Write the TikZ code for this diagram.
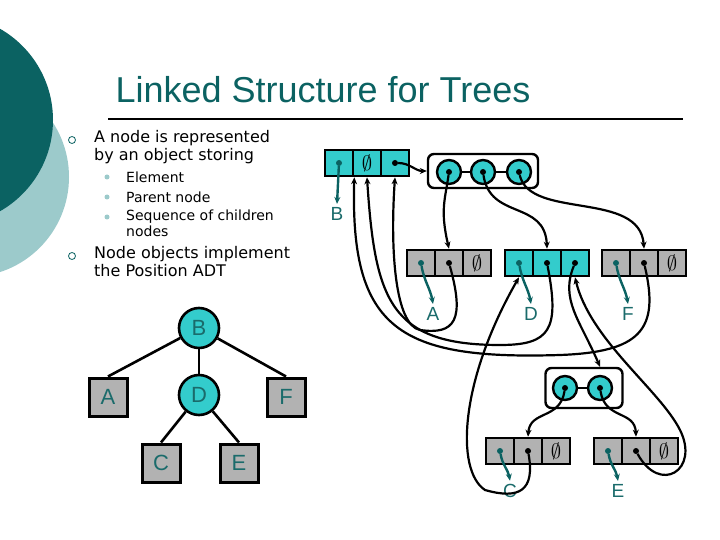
\documentclass[tikz,border=0pt]{standalone}
\usepackage{fontspec}
\setmainfont{DejaVu Sans}
\newfontfamily\titlefont{Liberation Sans}
\usetikzlibrary{arrows.meta}
\definecolor{dteal}{HTML}{0B6262}
\definecolor{lteal}{HTML}{9CCACB}
\definecolor{cyanf}{HTML}{33CCCC}
\definecolor{greyf}{HTML}{B2B2B2}
\definecolor{lbl}{HTML}{1A6B6B}
\begin{document}
\begin{tikzpicture}[x=1pt,y=-1pt,
  cellc/.style={draw=black,line width=2.6pt,fill=cyanf,minimum width=28pt,minimum height=26pt,inner sep=0pt},
  cellg/.style={cellc,fill=greyf},
  dot/.style={circle,fill=black,inner sep=0pt,minimum size=6pt},
  tdot/.style={circle,fill=dteal,inner sep=0pt,minimum size=6pt},
  lab/.style={text=lbl,font=\titlefont\fontsize{19}{19}\selectfont},
  cont/.style={draw=black,line width=2.4pt,rounded corners=6pt,fill=white},
  ball/.style={circle,draw=black,line width=2.4pt,fill=cyanf,minimum size=24pt,inner sep=0pt},
  ptr/.style={line width=2.2pt,-{Stealth[length=7pt,width=6pt]}},
  eptr/.style={draw=dteal,line width=2.4pt,-{Stealth[length=7pt,width=6pt]}},
  tcirc/.style={circle,draw=black,line width=2.6pt,fill=cyanf,minimum size=40pt,inner sep=0pt,text=lbl,font=\titlefont\fontsize{22}{22}\selectfont},
  tsq/.style={draw=black,line width=3pt,fill=greyf,minimum size=38pt,inner sep=0pt,text=lbl,font=\titlefont\fontsize{22}{22}\selectfont},
  tedge/.style={line width=2.6pt},
  nullsym/.style={font=\fontsize{22}{22}\selectfont}]
\useasboundingbox (0,0) rectangle (720,540);
\fill[white] (0,0) rectangle (720,540);
\begin{scope}
\clip (0,0) rectangle (720,540);
\fill[lteal] (-31,177) circle (100);
\fill[dteal] (-52,120) circle (105);
\end{scope}
\node[text=dteal,font=\titlefont\fontsize{36}{36}\selectfont] (title) at (323,90) {Linked Structure for Trees};
\draw[line width=1.5pt] (108,119) -- (683,119);
\tikzset{btxt/.style={anchor=west,font=\fontsize{16}{18}\selectfont,align=left,inner sep=0pt},
 stxt/.style={anchor=west,font=\fontsize{14}{16}\selectfont,align=left,inner sep=0pt}}
\node[circle,draw=dteal,line width=0.8pt,minimum size=7pt,inner sep=0pt] (b1) at (72,140) {};
\node[btxt,anchor=north west] (t1) at (94,130) {A node is represented\\by an object storing};
\foreach \yy/\nm in {177/s1,197/s2,217/s3}{\node[circle,fill=lteal,minimum size=5pt,inner sep=0pt] (\nm) at (107,\yy) {};}
\node[stxt] (u1) at (126,177) {Element};
\node[stxt] (u2) at (126,197) {Parent node};
\node[stxt,anchor=north west] (u3) at (126,210) {Sequence of children\\nodes};
\node[circle,draw=dteal,line width=0.8pt,minimum size=7pt,inner sep=0pt] (b2) at (72,256) {};
\node[btxt,anchor=north west] (t2) at (94,246) {Node objects implement\\the Position ADT};
\node[tcirc] (tB) at (199,328) {B};
\node[tcirc] (tD) at (199,395) {D};
\node[tsq] (tA) at (108,397) {A};
\node[tsq] (tF) at (286,397) {F};
\node[tsq] (tC) at (161,463) {C};
\node[tsq] (tE) at (239,463) {E};
\draw[tedge] (tB) -- (tA.north); \draw[tedge] (tB) -- (tD); \draw[tedge] (tB) -- (tF.north);
\draw[tedge] (tD) -- (tC.north); \draw[tedge] (tD) -- (tE.north);
\newcommand{\rec}[6]{%
 \node[#4] (#1a) at (#2,#3) {};
 \node[#5] (#1b) at (#2+28,#3) {};
 \node[#6] (#1c) at (#2+56,#3) {};}
\rec{B}{339}{163}{cellc}{cellc}{cellc}
\rec{A}{421}{263}{cellg}{cellg}{cellg}
\rec{D}{519}{263}{cellc}{cellc}{cellc}
\rec{F}{616}{263}{cellg}{cellg}{cellg}
\rec{C}{500}{451}{cellg}{cellg}{cellg}
\rec{E}{608}{451}{cellg}{cellg}{cellg}
\foreach \n in {Bb,Ac,Fc,Cc,Ec}{\node[nullsym] at (\n) {$\emptyset$};}
\foreach \n in {B,A,D,F,C,E}{\node[tdot] (\n e) at (\n a) {};}
\foreach \n in {Bc,Ab,Db,Dc,Fb,Cb,Eb}{\node[dot] (\n d) at (\n) {};}
\node[lab] (lB) at (337,214) {B};
\node[lab] (lA) at (433,314) {A};
\node[lab] (lD) at (531,314) {D};
\node[lab] (lF) at (628,314) {F};
\node[lab] (lC) at (510,491) {C};
\node[lab] (lE) at (618,491) {E};
\node[cont,minimum width=110pt,minimum height=34pt] (K1) at (483,171) {};
\node[ball] (k1) at (449,172) {}; \node[ball] (k2) at (483,172) {}; \node[ball] (k3) at (519,172) {};
\draw[line width=2.4pt] (k1) -- (k2) (k2) -- (k3);
\foreach \n in {k1,k2,k3}{\node[dot] (\n d) at (\n) {};}
\node[cont,minimum width=77pt,minimum height=40pt] (K2) at (584,388) {};
\node[ball] (m1) at (565,388) {}; \node[ball] (m2) at (600,388) {};
\draw[line width=2.4pt] (m1) -- (m2);
\foreach \n in {m1,m2}{\node[dot] (\n d) at (\n) {};}
\draw[eptr] (Be) -- (lB.north);
\draw[eptr] (Ae) to[out=-80,in=100] (lA.north);
\draw[eptr] (De) to[out=-80,in=100] (lD.north);
\draw[eptr] (Fe) to[out=-80,in=100] (lF.north);
\draw[eptr] (Ce) to[out=-80,in=100] (lC.north);
\draw[eptr] (Ee) to[out=-80,in=100] (lE.north);
\draw[ptr] (Bcd) to[out=0,in=180] (K1.west);
\draw[ptr] (k1d) .. controls (445,200) and (440,210) .. (Ab.north);
\draw[ptr] (k2d) .. controls (490,220) and (545,200) .. (Db.north);
\draw[ptr] (k3d) .. controls (530,220) and (640,190) .. (Fb.north);
\draw[ptr] (Dcd) .. controls (560,300) and (580,320) .. (K2.north-|m2);
\draw[ptr] (m1d) .. controls (560,420) and (530,410) .. (Cb.north);
\draw[ptr] (m2d) .. controls (605,420) and (635,410) .. (Eb.north);
\draw[ptr] (Abd) .. controls (465,320) and (455,335) .. (420,330) .. controls (395,325) and (390,250) .. (Bc.south);
\draw[ptr] (Dbd) .. controls (560,330) and (550,345) .. (500,345) .. controls (390,345) and (375,300) .. (Bb.south);
\draw[ptr] (Fbd) .. controls (660,330) and (640,352) .. (560,355) .. controls (400,360) and (350,330) .. (Ba.south east);
\draw[ptr] (Cbd) .. controls (535,490) and (520,500) .. (485,490) .. controls (455,470) and (460,380) .. (Da.south);
\draw[ptr] (Ebd) .. controls (660,495) and (700,470) .. (680,430) .. controls (660,390) and (590,340) .. (Dc.south);
\end{tikzpicture}
\end{document}
